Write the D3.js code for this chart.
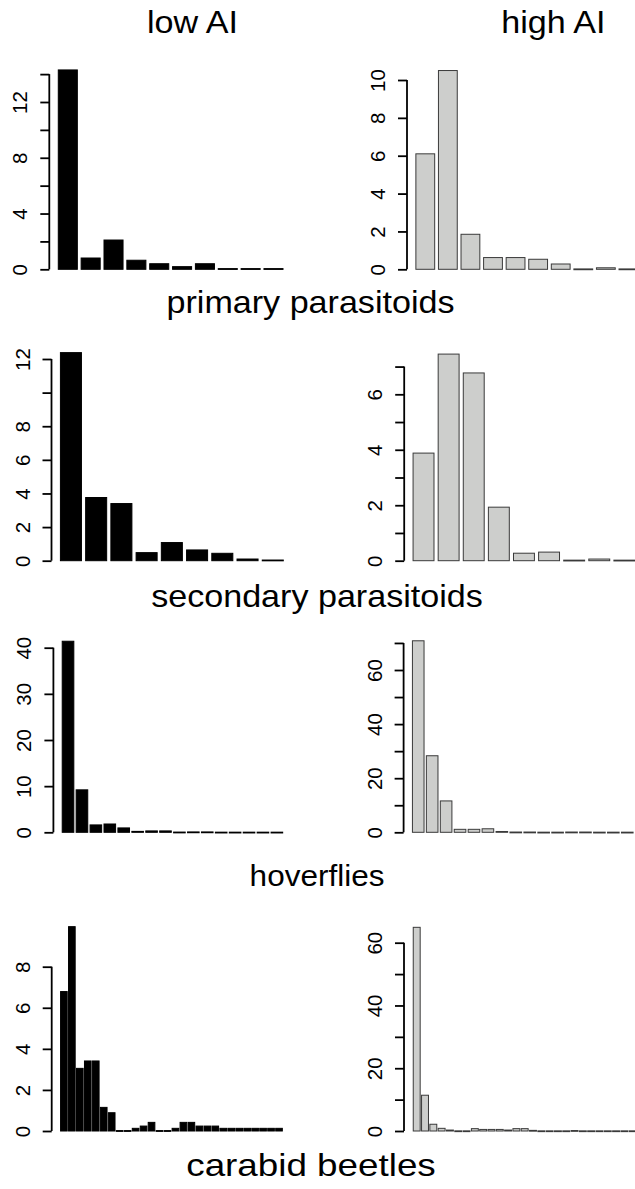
<!DOCTYPE html>
<html>
<head>
<meta charset="utf-8">
<script src="https://cdn.jsdelivr.net/npm/d3@7"></script>
<style>
  html, body { margin: 0; padding: 0; background: #ffffff; }
  svg { display: block; }
  text { font-family: "Liberation Sans", Arial, Helvetica, sans-serif; fill: #000; }
</style>
</head>
<body>
<svg id="chart" width="635" height="1189"></svg>
<script>
// ---------------- data ----------------
const columnTitles = ["low AI", "high AI"];
const groupTitles = ["primary parasitoids", "secondary parasitoids", "hoverflies", "carabid beetles"];

const lowPrimary  = [14.3, 0.81, 2.1, 0.65, 0.4, 0.19, 0.4, 0.05, 0.05, 0.05];
const highPrimary = [6.1, 10.5, 1.85, 0.62, 0.62, 0.53, 0.28, 0.02, 0.08, 0.02];

const lowSecondary  = [12.38, 3.76, 3.4, 0.48, 1.08, 0.64, 0.44, 0.1, 0.04];
const highSecondary = [3.88, 7.45, 6.77, 1.93, 0.27, 0.31, 0.02, 0.06, 0.02];

const lowHoverflies  = [41.4, 9.2, 1.6, 1.8, 0.95, 0.2, 0.3, 0.3, 0.05, 0.08, 0.08, 0.03, 0.03, 0.03, 0.03, 0.03];
const highHoverflies = [70.8, 28.3, 11.6, 1.1, 1.1, 1.3, 0.3, 0.1, 0.1, 0.05, 0.05, 0.1, 0.1, 0.05, 0.05, 0.05];

const lowCarabids  = [6.79, 9.95, 3.05, 3.41, 3.41, 1.15, 0.89, 0.02, 0.02, 0.13, 0.24, 0.42, 0.02, 0.02,
                      0.13, 0.42, 0.42, 0.24, 0.24, 0.24, 0.13, 0.13, 0.13, 0.13, 0.13, 0.13, 0.13, 0.13];
const highCarabids = [64.9, 11.4, 2.15, 0.85, 0.3, 0.05, 0.05, 0.75, 0.5, 0.5, 0.5, 0.3, 0.75, 0.75,
                      0.2, 0.05, 0.05, 0.05, 0.05, 0.15, 0.05, 0.05, 0.05, 0.05, 0.05, 0.05, 0.05, 0.05];

// y-axis tick values and which of them carry a label
const ticksLowPrimary   = [0, 2, 4, 6, 8, 10, 12, 14];
const labelsLowPrimary  = [0, 4, 8, 12];
const ticksHighPrimary  = [0, 2, 4, 6, 8, 10];
const labelsHighPrimary = [0, 2, 4, 6, 8, 10];
const ticksLowSecondary   = [0, 2, 4, 6, 8, 10, 12];
const labelsLowSecondary  = [0, 2, 4, 6, 8, 12];
const ticksHighSecondary  = [0, 1, 2, 3, 4, 5, 6, 7];
const labelsHighSecondary = [0, 2, 4, 6];
const ticksLowHoverflies   = [0, 10, 20, 30, 40];
const labelsLowHoverflies  = [0, 10, 20, 30, 40];
const ticksHighHoverflies  = [0, 10, 20, 30, 40, 50, 60, 70];
const labelsHighHoverflies = [0, 20, 40, 60];
const ticksLowCarabids   = [0, 2, 4, 6, 8];
const labelsLowCarabids  = [0, 2, 4, 6, 8];
const ticksHighCarabids  = [0, 10, 20, 30, 40, 50, 60];
const labelsHighCarabids = [0, 20, 40, 60];

// ---------------- layout ----------------
const W = 635, H = 1189;
const svg = d3.select("#chart");
svg.append("rect").attr("width", W).attr("height", H).attr("fill", "#fff");

// per panel: plot-region x extent, y of zero, y of a reference value
const panels = [
  {values: lowPrimary,   ticks: ticksLowPrimary,   labels: labelsLowPrimary,   left: 49.3,  right: 292,   base: 269.3, refV: 12, refY: 102,   low: true},
  {values: highPrimary,  ticks: ticksHighPrimary,  labels: labelsHighPrimary,  left: 407.0, right: 646.7, base: 269.3, refV: 10, refY: 80,    low: false},
  {values: lowSecondary, ticks: ticksLowSecondary, labels: labelsLowSecondary, left: 51.5,  right: 292.2, base: 560.7, refV: 12, refY: 359,   low: true},
  {values: highSecondary,ticks: ticksHighSecondary,labels: labelsHighSecondary,left: 404.2, right: 643.7, base: 560.7, refV: 6,  refY: 394.3, low: false},
  {values: lowHoverflies,ticks: ticksLowHoverflies,labels: labelsLowHoverflies,left: 53.4,  right: 291.5, base: 832.3, refV: 40, refY: 647.7, low: true},
  {values: highHoverflies,ticks: ticksHighHoverflies,labels: labelsHighHoverflies,left: 403.6, right: 641.9, base: 832.3, refV: 60, refY: 670, low: false},
  {values: lowCarabids,  ticks: ticksLowCarabids,  labels: labelsLowCarabids,  left: 51.7,  right: 291.2, base: 1131,  refV: 8,  refY: 966.7, low: true},
  {values: highCarabids, ticks: ticksHighCarabids, labels: labelsHighCarabids, left: 404.0, right: 653.7, base: 1131,  refV: 60, refY: 942.7, low: false}
];

panels.forEach(p => {
  const n = p.values.length;
  const L = 1.2 * n - 0.2;                 // R barplot span (width 1, space 0.2)
  const outer = 0.04 * L / 1.2;            // 4% axis extension, in steps
  const x = d3.scaleBand()
    .domain(d3.range(n))
    .range([p.left, p.right])
    .paddingInner(0.2 / 1.2)
    .paddingOuter(outer);
  const y = d3.scaleLinear().domain([0, p.refV]).range([p.base, p.refY]);

  const g = svg.append("g");
  g.selectAll("rect.bar")
    .data(p.values)
    .join("rect")
    .attr("class", "bar")
    .attr("x", (d, i) => x(i))
    .attr("width", x.bandwidth())
    .attr("y", d => y(d))
    .attr("height", d => Math.max(0.8, y(0) - y(d)))
    .attr("fill", p.low ? "#000000" : "#cdcecc")
    .attr("stroke", p.low ? "#000000" : "#3a3a3a")
    .attr("stroke-width", 1);

  const last = p.ticks[p.ticks.length - 1];
  const axis = d3.axisLeft(y)
    .tickValues(p.ticks)
    .tickSize(9)
    .tickSizeOuter(0)
    .tickFormat(d => p.labels.includes(d) ? String(d) : "");
  const ag = g.append("g")
    .attr("transform", `translate(${p.left},0)`)
    .call(axis);
  ag.select(".domain")
    .attr("d", `M0,${y(0)}V${y(last)}`)
    .attr("stroke", "#000").attr("stroke-width", 1.8);
  ag.selectAll(".tick line").attr("stroke", "#000").attr("stroke-width", 1.8);
  ag.selectAll(".tick text")
    .attr("x", null).attr("dy", null)
    .attr("transform", "translate(-22,0) rotate(-90)")
    .attr("text-anchor", "middle")
    .style("font-size", "20.5px")
    .style("font-family", "'Liberation Sans', Arial, sans-serif")
    .attr("fill", "#000");
});

// column titles
const colX = [192.5, 553.3];
svg.selectAll("text.col")
  .data(columnTitles)
  .join("text")
  .attr("class", "col")
  .attr("transform", (d, i) => `translate(${colX[i]},33) scale(1.1,1)`)
  .attr("text-anchor", "middle")
  .style("font-size", "31px")
  .text(d => d);

// group titles
const groupY = [313, 607, 886, 1176];
const groupX = [310.5, 317, 317, 311];
const groupSize = [31, 31, 30, 32];
const groupStretch = [1.1, 1.1, 1.05, 1.15];
svg.selectAll("text.grp")
  .data(groupTitles)
  .join("text")
  .attr("class", "grp")
  .attr("transform", (d, i) => `translate(${groupX[i]},${groupY[i]}) scale(${groupStretch[i]},1)`)
  .attr("text-anchor", "middle")
  .style("font-size", (d, i) => groupSize[i] + "px")
  .text(d => d);
</script>
</body>
</html>
